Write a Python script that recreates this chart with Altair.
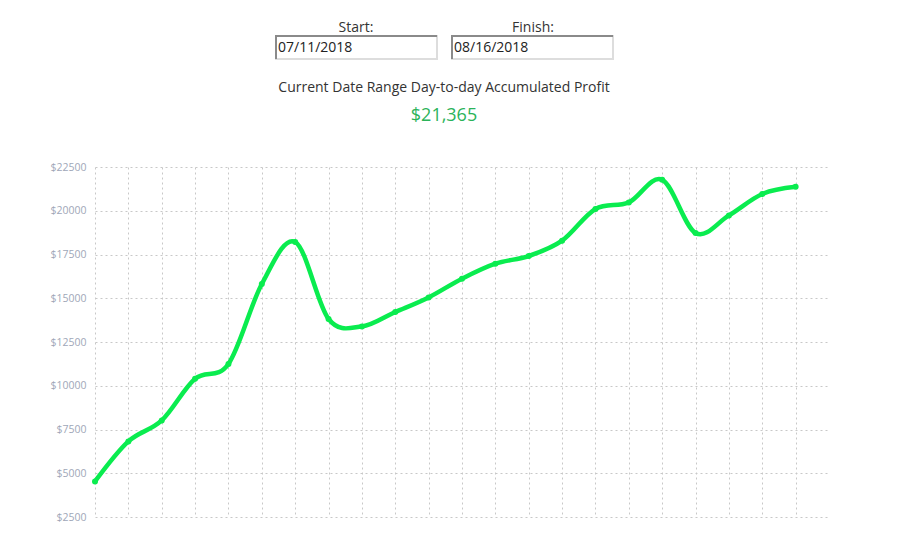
import altair as alt
import pandas as pd

# ---- data ----
day_index = list(range(22))
profit = [4534, 6820, 8020, 10403, 11243, 15814, 18214, 13814, 13391, 14214,
          15049, 16117, 16974, 17414, 18289, 20100, 20477, 21774, 18729, 19734,
          20957, 21365]
y_ticks = [2500, 5000, 7500, 10000, 12500, 15000, 17500, 20000, 22500]
start_label = "Start:"
finish_label = "Finish:"
start_date = "07/11/2018"
finish_date = "08/16/2018"
heading = "Current Date Range Day-to-day Accumulated Profit"
total_text = "$21,365"

df = pd.DataFrame({"day": day_index, "profit": profit})

FONT = "Open Sans"
GREEN = "#0aec4f"

W, H = 734, 350
PAD_L, PAD_T = 87, 159

x_scale = alt.Scale(domain=[0, 22], nice=False, zero=False)
y_scale = alt.Scale(domain=[2500, 22500], nice=False, zero=False)

x_axis = alt.Axis(values=day_index, labels=False, ticks=False, domain=False,
                  title=None, grid=True, gridDash=[2, 3], gridColor="#c8c8c8",
                  gridWidth=1)
y_axis = alt.Axis(values=y_ticks, labelExpr="'$' + datum.value", ticks=False,
                  domain=False, title=None, grid=True, gridDash=[2, 3],
                  gridColor="#c8c8c8", gridWidth=1, labelColor="#a0a7b8",
                  labelFont=FONT, labelFontSize=10.5, labelPadding=9)

base = alt.Chart(df)

line = base.mark_line(interpolate="cardinal", strokeWidth=4.5, color=GREEN).encode(
    x=alt.X("day:Q", scale=x_scale, axis=x_axis),
    y=alt.Y("profit:Q", scale=y_scale, axis=y_axis),
)
pts = base.mark_circle(size=36, color=GREEN, opacity=1).encode(
    x=alt.X("day:Q", scale=x_scale, axis=x_axis),
    y=alt.Y("profit:Q", scale=y_scale, axis=y_axis),
)

# ---- header (HTML-like controls) ----
one = pd.DataFrame({"a": [0]})
hdr = alt.Chart(one)

def txt(t, x, y, size, color, align="center"):
    return hdr.mark_text(text=t, font=FONT, fontSize=size, color=color,
                         align=align, baseline="middle").encode(
        x=alt.value(x), y=alt.value(y))

def box(x0, x1, y0, y1):
    r = hdr.mark_rect(fill="white", stroke="#dddddd", strokeWidth=2).encode(
        x=alt.value(x0), x2=alt.value(x1), y=alt.value(y0), y2=alt.value(y1))
    top = hdr.mark_rule(color="#8a8a8a", strokeWidth=2).encode(
        x=alt.value(x0 - 1), x2=alt.value(x1), y=alt.value(y0))
    left = hdr.mark_rule(color="#8a8a8a", strokeWidth=2).encode(
        x=alt.value(x0), y=alt.value(y0 - 1), y2=alt.value(y1))
    return r + top + left

ox, oy = PAD_L + 8, PAD_T + 8
layers = [
    txt(start_label, 356 - ox, 28 - oy, 14, "#333333"),
    txt(finish_label, 533 - ox, 28 - oy, 14, "#333333"),
    box(276 - ox, 437 - ox, 36 - oy, 59 - oy),
    box(452 - ox, 613 - ox, 36 - oy, 59 - oy),
    txt(start_date, 278 - ox, 48 - oy, 14, "#222222", align="left"),
    txt(finish_date, 454 - ox, 48 - oy, 14, "#222222", align="left"),
    txt(heading, 444 - ox, 88 - oy, 14, "#333333"),
    txt(total_text, 444 - ox, 116 - oy, 18, "#2bb35a"),
]

chart = alt.layer(line, pts, *layers).properties(
    width=W, height=H,
    autosize=alt.AutoSizeParams(type="none"),
    padding={"left": PAD_L, "top": PAD_T, "right": 50, "bottom": 20},
).configure_view(stroke=None)

chart.save("out.html", embed_options={"renderer": "svg", "actions": False})
